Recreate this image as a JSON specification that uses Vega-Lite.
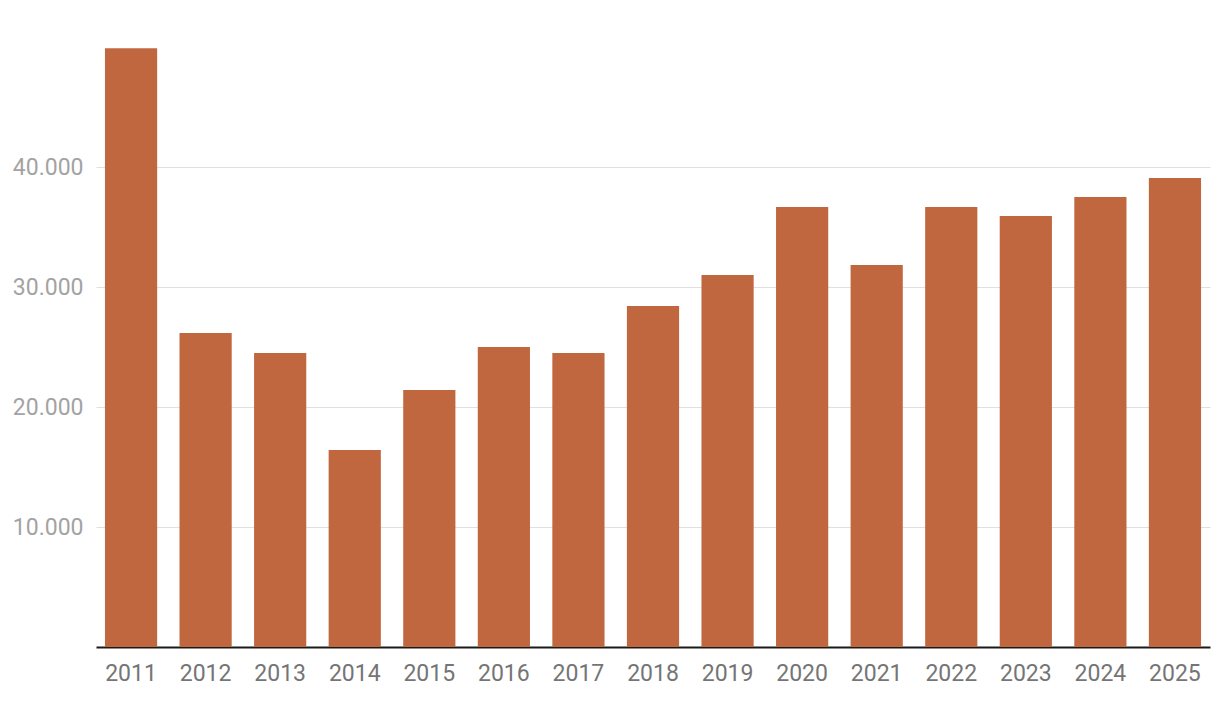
{
  "$schema": "https://vega.github.io/schema/vega-lite/v6.json",
  "width": 1114,
  "height": 600,
  "autosize": {"type": "none"},
  "padding": {"left": 96, "top": 47, "right": 10, "bottom": 57},
  "background": "#ffffff",
  "config": {"view": {"stroke": null}, "font": "Roboto"},
  "data": {
    "values": [
      {"year": "2011", "value": 49900},
      {"year": "2012", "value": 26170},
      {"year": "2013", "value": 24500},
      {"year": "2014", "value": 16420},
      {"year": "2015", "value": 21420},
      {"year": "2016", "value": 25000},
      {"year": "2017", "value": 24500},
      {"year": "2018", "value": 28420},
      {"year": "2019", "value": 31000},
      {"year": "2020", "value": 36670},
      {"year": "2021", "value": 31830},
      {"year": "2022", "value": 36670},
      {"year": "2023", "value": 35920},
      {"year": "2024", "value": 37500},
      {"year": "2025", "value": 39080}
    ]
  },
  "mark": {"type": "bar", "color": "#c0673f"},
  "encoding": {
    "x": {
      "field": "year",
      "type": "ordinal",
      "scale": {"paddingInner": 0.3, "paddingOuter": 0.12},
      "axis": {
        "title": null,
        "labelAngle": 0,
        "ticks": false,
        "domainColor": "#1a1a1a",
        "domainWidth": 2,
        "labelFont": "Roboto",
        "labelFontSize": 23,
        "labelColor": "#757575",
        "labelPadding": 15
      }
    },
    "y": {
      "field": "value",
      "type": "quantitative",
      "scale": {"domain": [0, 50000], "nice": false},
      "axis": {
        "title": null,
        "values": [10000, 20000, 30000, 40000],
        "labelExpr": "replace(format(datum.value, ','), ',', '.')",
        "domain": false,
        "ticks": false,
        "gridColor": "#e0e0e0",
        "gridWidth": 1,
        "labelFont": "Roboto",
        "labelFontSize": 23,
        "labelColor": "#a3a3a3",
        "labelPadding": 13
      }
    }
  }
}
